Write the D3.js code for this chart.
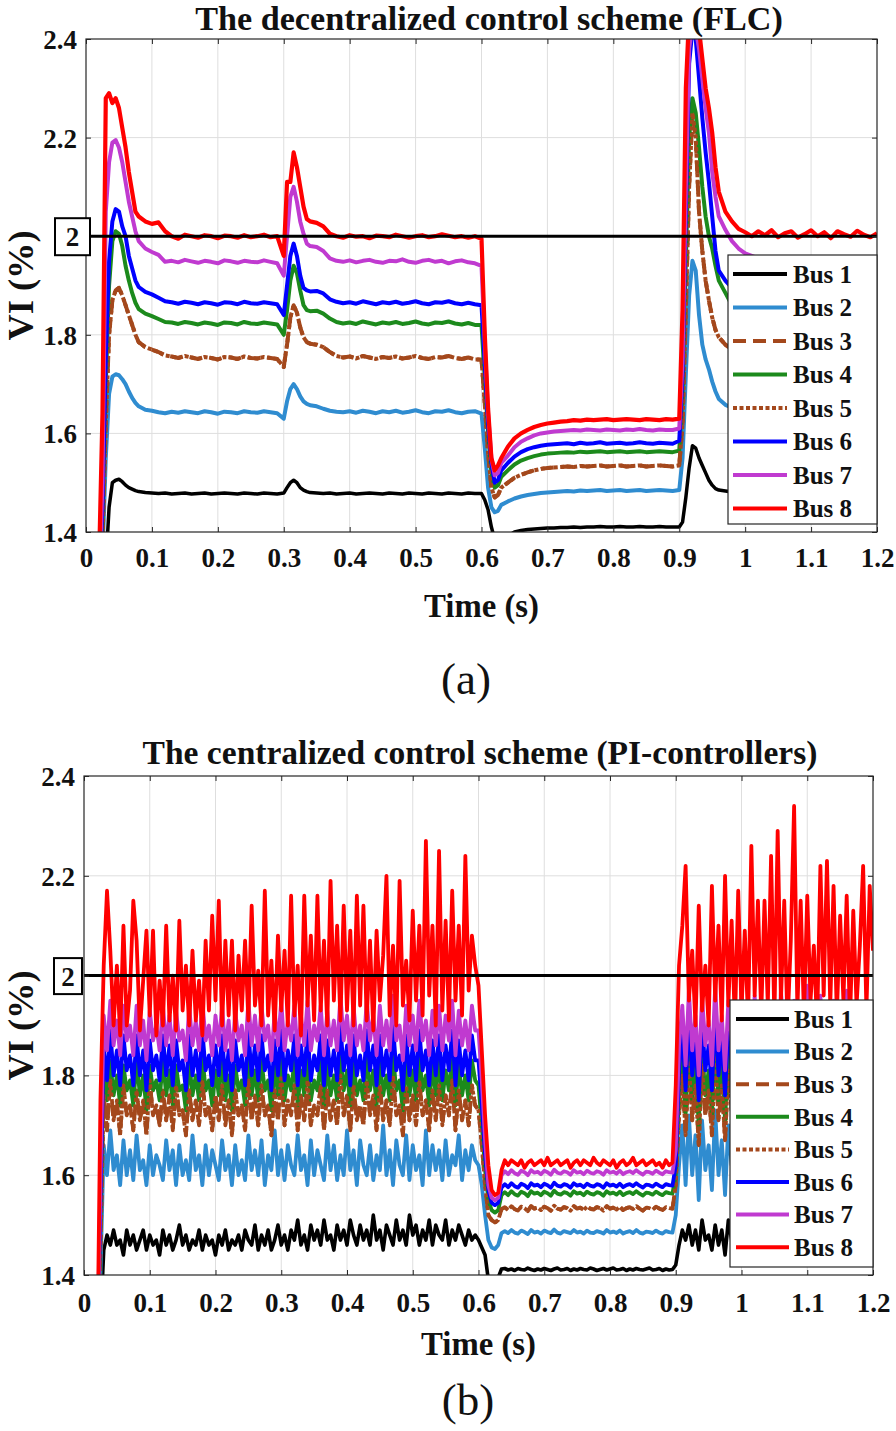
<!DOCTYPE html>
<html><head><meta charset="utf-8">
<script src="https://cdn.jsdelivr.net/npm/d3@7"></script>
<style>body{margin:0;background:#fff}svg{display:block}</style>
</head><body>
<svg id="c" width="896" height="1431"></svg>
<script>
// ---------- labels ----------
const titleA = "The decentralized control scheme (FLC)";
const titleB = "The centralized control scheme (PI-controllers)";
const xAxisLabel = "Time (s)";
const yAxisLabel = "VI (%)";
const busNames = ["Bus 1","Bus 2","Bus 3","Bus 4","Bus 5","Bus 6","Bus 7","Bus 8"];
const busColors = ["#000000","#2f8cd0","#a4481c","#1c8a1c","#a4481c","#0000ff","#c03ad0","#ff0000"];
const busDash = [null,null,"13,7",null,"4,2.5",null,null,null];
const xTicks = [0,0.1,0.2,0.3,0.4,0.5,0.6,0.7,0.8,0.9,1.0,1.1,1.2];
const xTickLabels = ["0","0.1","0.2","0.3","0.4","0.5","0.6","0.7","0.8","0.9","1","1.1","1.2"];
const yTicks = [1.4,1.6,1.8,2.0,2.2,2.4];
const yTickLabels = ["1.4","1.6","1.8","2","2.2","2.4"];
const refLevel = 2.0;

// ---------- (a) FLC data ----------
const tFLC = [0,0.02,0.025,0.03,0.035,0.04,0.045,0.05,0.055,0.06,0.065,0.07,0.075,0.08,
0.09,0.1,0.11,0.12,0.13,0.14,0.15,0.16,0.17,0.18,0.19,0.2,0.21,0.22,0.23,0.24,0.25,0.26,0.27,0.28,0.29,
0.3,0.305,0.31,0.315,0.32,0.325,0.33,0.335,0.34,
0.35,0.36,0.37,0.38,0.39,0.4,0.41,0.42,0.43,0.44,0.45,0.46,0.47,0.48,0.49,0.5,0.51,0.52,0.53,0.54,0.55,0.56,0.57,0.58,0.59,
0.6,0.605,0.61,0.615,0.62,0.625,0.63,
0.64,0.65,0.66,0.67,0.68,0.69,0.7,0.71,0.72,0.73,0.74,0.75,0.76,0.77,0.78,0.79,0.8,0.81,0.82,0.83,0.84,0.85,0.86,0.87,0.88,0.89,
0.9,0.905,0.91,0.915,0.92,0.925,0.93,0.935,0.94,0.945,0.95,0.955,0.96,
0.97,0.98,0.99,1,1.01,1.02,1.03,1.04,1.05,1.06,1.07,1.08,1.09,1.1,1.11,1.12,1.13,1.14,1.15,1.16,1.17,1.18,1.19,1.2];

const flcBus1 = [1.2,1.2,1.25,1.33,1.45,1.5,1.505,1.507,1.502,1.495,1.49,1.487,1.484,1.482,
1.48,1.479,1.478,1.479,1.477,1.478,1.479,1.477,1.478,1.479,1.477,1.478,1.479,1.478,1.477,1.479,1.478,1.477,1.479,1.478,1.477,
1.479,1.49,1.5,1.505,1.5,1.49,1.485,1.482,1.48,
1.479,1.478,1.479,1.477,1.478,1.479,1.477,1.478,1.479,1.478,1.477,1.479,1.478,1.477,1.479,1.478,1.477,1.479,1.478,1.477,1.479,1.478,1.477,1.479,1.478,
1.478,1.465,1.445,1.41,1.385,1.38,1.385,
1.392,1.4,1.403,1.405,1.406,1.407,1.408,1.408,1.409,1.409,1.41,1.409,1.41,1.41,1.411,1.41,1.41,1.411,1.41,1.41,1.411,1.41,1.41,1.411,1.41,1.41,
1.41,1.42,1.47,1.53,1.575,1.57,1.55,1.535,1.52,1.505,1.495,1.488,1.485,
1.483,1.481,1.48,1.479,1.478,1.479,1.477,1.478,1.479,1.477,1.478,1.476,1.477,1.478,1.476,1.477,1.475,1.476,1.477,1.475,1.476,1.474,1.475,1.476];

const flcBus2 = [1.2,1.26,1.35,1.55,1.68,1.715,1.72,1.718,1.71,1.7,1.685,1.672,1.662,1.655,
1.648,1.646,1.643,1.641,1.644,1.642,1.645,1.643,1.641,1.645,1.643,1.64,1.644,1.643,1.641,1.645,1.643,1.642,1.645,1.643,1.641,
1.63,1.665,1.69,1.7,1.69,1.675,1.665,1.66,1.657,
1.655,1.65,1.646,1.644,1.643,1.645,1.642,1.646,1.644,1.641,1.645,1.643,1.646,1.642,1.644,1.647,1.643,1.641,1.645,1.644,1.647,1.643,1.641,1.644,1.645,
1.64,1.57,1.49,1.45,1.44,1.443,1.455,
1.462,1.468,1.472,1.475,1.477,1.479,1.48,1.481,1.482,1.483,1.482,1.484,1.483,1.484,1.485,1.483,1.484,1.485,1.483,1.484,1.485,1.483,1.484,1.485,1.484,1.483,
1.485,1.55,1.72,1.88,1.95,1.93,1.84,1.78,1.75,1.73,1.705,1.685,1.67,
1.658,1.652,1.648,1.646,1.645,1.643,1.646,1.642,1.645,1.641,1.644,1.642,1.639,1.643,1.64,1.638,1.642,1.639,1.636,1.64,1.637,1.635,1.638,1.634];

const flcBus3 = [1.2,1.28,1.38,1.62,1.8,1.87,1.89,1.895,1.88,1.86,1.84,1.82,1.8,1.785,
1.775,1.77,1.765,1.758,1.756,1.753,1.757,1.754,1.751,1.755,1.753,1.75,1.755,1.754,1.751,1.756,1.753,1.752,1.755,1.753,1.751,
1.735,1.78,1.835,1.86,1.845,1.815,1.795,1.785,1.782,
1.78,1.775,1.765,1.757,1.754,1.756,1.752,1.757,1.754,1.751,1.755,1.753,1.756,1.752,1.754,1.757,1.753,1.751,1.755,1.754,1.757,1.753,1.751,1.754,1.75,
1.75,1.66,1.56,1.49,1.47,1.475,1.49,
1.5,1.51,1.516,1.521,1.525,1.528,1.53,1.531,1.532,1.533,1.532,1.534,1.533,1.534,1.535,1.533,1.534,1.535,1.533,1.534,1.535,1.533,1.534,1.535,1.534,1.533,
1.535,1.62,1.85,2.1,2.25,2.2,2.05,1.97,1.91,1.87,1.835,1.81,1.795,
1.78,1.77,1.762,1.758,1.755,1.759,1.752,1.756,1.751,1.755,1.753,1.75,1.754,1.752,1.756,1.75,1.753,1.749,1.753,1.751,1.748,1.752,1.749,1.75];

const flcBus4 = [1.2,1.3,1.42,1.7,1.9,1.99,2.01,2.005,1.98,1.94,1.91,1.885,1.865,1.852,
1.843,1.838,1.832,1.826,1.825,1.822,1.826,1.824,1.821,1.825,1.823,1.82,1.825,1.824,1.821,1.826,1.823,1.822,1.825,1.823,1.821,
1.8,1.85,1.91,1.94,1.925,1.89,1.86,1.85,1.848,
1.849,1.843,1.833,1.826,1.823,1.825,1.822,1.827,1.824,1.821,1.825,1.823,1.826,1.822,1.824,1.827,1.823,1.821,1.825,1.824,1.827,1.823,1.821,1.824,1.82,
1.82,1.71,1.6,1.52,1.49,1.495,1.512,
1.525,1.537,1.545,1.55,1.554,1.557,1.559,1.56,1.561,1.562,1.561,1.563,1.562,1.563,1.564,1.562,1.563,1.564,1.562,1.563,1.564,1.562,1.563,1.564,1.563,1.562,
1.565,1.68,1.95,2.2,2.28,2.25,2.18,2.1,2.04,2.0,1.975,1.94,1.91,
1.885,1.86,1.845,1.835,1.83,1.826,1.831,1.823,1.827,1.821,1.826,1.823,1.82,1.825,1.822,1.827,1.82,1.824,1.819,1.823,1.821,1.818,1.822,1.815];

const flcBus5 = flcBus3; // Bus 5 lies on Bus 3 in the picture

const flcBus6 = [1.2,1.3,1.45,1.75,1.95,2.03,2.055,2.05,2.02,2.0,1.96,1.935,1.91,1.897,
1.887,1.882,1.875,1.868,1.866,1.863,1.867,1.865,1.862,1.866,1.864,1.861,1.866,1.865,1.862,1.867,1.864,1.863,1.866,1.864,1.862,
1.84,1.9,1.96,1.985,1.96,1.92,1.895,1.89,1.888,
1.889,1.884,1.872,1.867,1.864,1.866,1.863,1.868,1.865,1.862,1.866,1.864,1.867,1.863,1.865,1.868,1.864,1.862,1.866,1.865,1.868,1.864,1.862,1.865,1.862,
1.86,1.74,1.62,1.54,1.5,1.505,1.525,
1.54,1.553,1.562,1.568,1.572,1.575,1.577,1.578,1.579,1.58,1.578,1.581,1.579,1.58,1.582,1.579,1.58,1.581,1.579,1.58,1.582,1.58,1.579,1.581,1.58,1.579,
1.585,1.72,2.05,2.35,2.42,2.4,2.32,2.24,2.17,2.11,2.04,1.97,1.93,
1.91,1.895,1.885,1.875,1.87,1.866,1.872,1.864,1.868,1.862,1.867,1.865,1.861,1.866,1.863,1.868,1.862,1.865,1.861,1.866,1.863,1.86,1.864,1.862];

const flcBus7 = [1.2,1.3,1.5,2.05,2.15,2.19,2.195,2.18,2.15,2.11,2.07,2.04,2.01,1.99,
1.975,1.968,1.962,1.948,1.95,1.947,1.952,1.949,1.946,1.95,1.948,1.945,1.951,1.949,1.946,1.95,1.948,1.947,1.951,1.948,1.945,
1.92,2.0,2.08,2.1,2.07,2.03,2.005,1.985,1.98,
1.978,1.97,1.955,1.95,1.948,1.951,1.947,1.95,1.952,1.948,1.946,1.95,1.949,1.953,1.948,1.946,1.95,1.952,1.948,1.95,1.945,1.949,1.951,1.947,1.945,
1.94,1.78,1.64,1.55,1.515,1.52,1.54,
1.555,1.572,1.583,1.59,1.596,1.6,1.602,1.604,1.605,1.606,1.607,1.606,1.608,1.607,1.606,1.608,1.607,1.606,1.608,1.607,1.609,1.607,1.606,1.608,1.607,1.607,
1.61,1.75,2.1,2.38,2.43,2.42,2.38,2.32,2.26,2.21,2.13,2.08,2.04,
2.013,1.99,1.975,1.965,1.96,1.955,1.952,1.958,1.95,1.955,1.948,1.953,1.95,1.946,1.952,1.948,1.945,1.95,1.947,1.944,1.949,1.946,1.943,1.945];

const flcBus8 = [1.2,1.35,1.64,2.28,2.29,2.27,2.28,2.26,2.22,2.18,2.13,2.09,2.05,2.04,
2.03,2.025,2.028,2.01,2.0,1.995,2.003,2.0,1.997,2.002,2.0,1.996,2.001,2.0,1.997,2.002,1.998,2.0,2.003,1.998,2.0,
1.96,2.11,2.11,2.17,2.14,2.1,2.06,2.035,2.03,
2.027,2.02,2.005,2.0,1.997,2.002,1.999,2.0,1.996,2.001,2.0,1.998,2.003,2.0,1.997,2.0,2.002,1.998,2.0,2.004,2.001,1.998,2.0,1.997,2.0,
1.995,1.8,1.65,1.55,1.525,1.535,1.55,
1.573,1.59,1.6,1.607,1.613,1.617,1.62,1.622,1.624,1.625,1.627,1.626,1.628,1.627,1.628,1.629,1.627,1.628,1.629,1.628,1.627,1.629,1.628,1.627,1.629,1.628,
1.63,1.85,2.3,2.45,2.48,2.46,2.42,2.36,2.3,2.26,2.21,2.14,2.09,
2.05,2.03,2.015,2.008,2.0,2.01,2.002,2.012,1.998,2.006,2.01,1.997,2.004,2.012,2.0,2.008,1.996,2.01,2.004,1.999,2.011,2.003,1.998,2.006];

// ---------- (b) PI data, sampled every 5 ms from 0 to 1.2 s ----------
const piStep = 0.005;
const piBus1 = [1.2,1.2,1.2,1.2,1.2,1.3,
1.45,1.48,1.46,1.49,1.46,1.47,1.44,1.49,1.46,1.48,1.45,1.47,1.49,1.45,1.48,1.46,1.47,1.44,1.49,1.46,
1.48,1.45,1.47,1.50,1.46,1.48,1.45,1.47,1.46,1.49,1.45,1.48,1.46,1.47,1.44,1.48,1.46,1.49,1.45,1.47,
1.46,1.48,1.45,1.49,1.47,1.46,1.50,1.45,1.48,1.46,1.49,1.45,1.47,1.50,1.46,1.48,1.45,1.49,1.47,1.51,
1.46,1.48,1.45,1.50,1.47,1.49,1.46,1.51,1.47,1.48,1.45,1.50,1.47,1.49,1.46,1.51,1.48,1.46,1.50,1.47,
1.49,1.46,1.52,1.47,1.49,1.45,1.50,1.48,1.46,1.51,1.47,1.49,1.46,1.52,1.48,1.50,1.46,1.49,1.47,1.51,
1.46,1.50,1.48,1.47,1.51,1.46,1.49,1.47,1.50,1.48,1.46,1.49,1.47,1.48,
1.47,1.455,1.44,1.39,1.37,1.37,1.395,1.412,
1.413,1.41,1.412,1.409,1.413,1.411,1.41,1.414,1.411,1.409,1.412,1.41,1.413,
1.411,1.409,1.412,1.414,1.41,1.411,1.413,1.409,1.412,1.41,1.413,1.411,1.41,
1.414,1.412,1.409,1.411,1.413,1.41,1.412,1.414,1.41,1.411,1.413,1.409,1.412,
1.41,1.413,1.411,1.41,1.412,1.414,1.41,1.411,1.413,1.409,1.412,1.41,1.411,
1.42,
1.46,1.49,1.47,1.50,1.46,1.49,1.45,1.51,1.47,1.48,1.45,1.50,1.46,1.49,1.44,1.51,1.47,1.49,1.45,1.50,
1.47,1.52,1.46,1.49,1.45,1.51,1.47,1.48,1.44,1.50,1.46,1.49,1.47,1.51,1.45,1.48,1.46,1.50,1.44,1.49,
1.47,1.51,1.45,1.48,1.46,1.52,1.47,1.49,1.45,1.50,1.46,1.48,1.44,1.51,1.47,1.49,1.45,1.50,1.48,1.52];

const piBus2 = [1.2,1.2,1.2,1.2,1.2,1.4,
1.66,1.60,1.69,1.61,1.64,1.58,1.67,1.60,1.65,1.59,1.68,1.61,1.63,1.58,1.66,1.60,1.64,1.62,1.59,1.67,
1.61,1.65,1.58,1.66,1.60,1.63,1.59,1.68,1.61,1.64,1.58,1.66,1.60,1.65,1.62,1.59,1.67,1.61,1.64,1.58,
1.66,1.60,1.63,1.59,1.68,1.61,1.65,1.60,1.67,1.58,1.64,1.61,1.69,1.60,1.65,1.59,1.66,1.62,1.60,1.68,
1.61,1.64,1.58,1.67,1.60,1.65,1.62,1.59,1.68,1.61,1.66,1.59,1.64,1.60,1.69,1.61,1.65,1.58,1.67,1.62,
1.60,1.66,1.59,1.64,1.61,1.70,1.60,1.65,1.58,1.67,1.62,1.60,1.68,1.59,1.66,1.61,1.64,1.58,1.69,1.60,
1.66,1.61,1.65,1.59,1.67,1.60,1.64,1.62,1.68,1.59,1.65,1.61,1.66,1.63,
1.62,1.58,1.52,1.47,1.455,1.452,1.46,1.484,
1.488,1.484,1.49,1.485,1.483,1.489,1.486,1.482,1.49,1.485,1.487,1.483,1.489,
1.486,1.484,1.491,1.485,1.483,1.488,1.486,1.484,1.49,1.485,1.487,1.483,1.489,
1.485,1.484,1.488,1.486,1.483,1.49,1.485,1.487,1.484,1.489,1.483,1.486,1.488,
1.484,1.49,1.485,1.483,1.487,1.486,1.484,1.489,1.485,1.483,1.488,1.486,1.485,
1.52,
1.62,1.70,1.58,1.72,1.60,1.68,1.55,1.71,1.61,1.66,1.57,1.73,1.60,1.67,1.56,1.70,1.62,1.65,1.55,1.72,
1.59,1.68,1.57,1.71,1.61,1.66,1.54,1.70,1.60,1.69,1.58,1.72,1.62,1.65,1.56,1.70,1.60,1.67,1.57,1.73,
1.61,1.66,1.55,1.71,1.59,1.68,1.57,1.70,1.62,1.65,1.56,1.72,1.60,1.67,1.58,1.69,1.61,1.66,1.59,1.65];

const piBus3 = [1.2,1.2,1.2,1.2,1.2,1.45,
1.76,1.69,1.79,1.71,1.75,1.68,1.78,1.72,1.74,1.69,1.77,1.71,1.75,1.68,1.79,1.72,1.74,1.70,1.77,1.71,
1.76,1.69,1.78,1.72,1.73,1.68,1.77,1.71,1.75,1.70,1.79,1.72,1.74,1.69,1.76,1.71,1.78,1.70,1.75,1.68,
1.77,1.72,1.74,1.69,1.79,1.71,1.76,1.70,1.78,1.72,1.74,1.68,1.77,1.71,1.80,1.70,1.75,1.72,1.78,1.69,
1.76,1.71,1.79,1.70,1.74,1.72,1.78,1.69,1.77,1.71,1.75,1.70,1.80,1.72,1.76,1.69,1.78,1.71,1.74,1.70,
1.79,1.72,1.76,1.69,1.78,1.71,1.75,1.70,1.80,1.72,1.74,1.68,1.78,1.71,1.76,1.70,1.79,1.72,1.75,1.69,
1.77,1.71,1.78,1.70,1.76,1.72,1.79,1.69,1.77,1.71,1.75,1.70,1.78,1.74,
1.73,1.66,1.58,1.52,1.51,1.505,1.51,1.532,
1.536,1.53,1.538,1.532,1.529,1.537,1.534,1.528,1.538,1.533,1.535,1.53,1.537,
1.534,1.529,1.539,1.533,1.531,1.536,1.534,1.529,1.538,1.533,1.535,1.53,1.537,
1.533,1.531,1.536,1.534,1.529,1.538,1.533,1.535,1.531,1.537,1.53,1.534,1.536,
1.532,1.538,1.533,1.529,1.535,1.534,1.531,1.537,1.533,1.53,1.536,1.534,1.533,
1.58,
1.72,1.80,1.68,1.83,1.71,1.78,1.66,1.82,1.72,1.77,1.68,1.84,1.71,1.78,1.67,1.81,1.73,1.76,1.66,1.83,
1.70,1.79,1.68,1.82,1.72,1.77,1.66,1.81,1.71,1.80,1.69,1.83,1.73,1.76,1.67,1.81,1.71,1.78,1.68,1.84,
1.72,1.77,1.66,1.82,1.70,1.79,1.68,1.81,1.73,1.76,1.67,1.83,1.71,1.78,1.69,1.80,1.72,1.77,1.70,1.74];

const piBus4 = [1.2,1.2,1.2,1.2,1.2,1.5,
1.81,1.75,1.83,1.76,1.80,1.74,1.82,1.77,1.79,1.74,1.83,1.76,1.80,1.73,1.82,1.77,1.79,1.75,1.83,1.76,
1.81,1.74,1.82,1.77,1.78,1.73,1.83,1.76,1.80,1.75,1.84,1.77,1.79,1.74,1.81,1.76,1.83,1.75,1.80,1.73,
1.82,1.77,1.79,1.74,1.84,1.76,1.81,1.75,1.83,1.77,1.79,1.73,1.82,1.76,1.84,1.75,1.80,1.77,1.83,1.74,
1.81,1.76,1.84,1.75,1.79,1.77,1.83,1.74,1.82,1.76,1.80,1.75,1.84,1.77,1.81,1.74,1.83,1.76,1.79,1.75,
1.84,1.77,1.81,1.74,1.83,1.76,1.80,1.75,1.84,1.77,1.79,1.73,1.83,1.76,1.81,1.75,1.84,1.77,1.80,1.74,
1.82,1.76,1.83,1.75,1.81,1.77,1.84,1.74,1.82,1.76,1.80,1.75,1.83,1.79,
1.78,1.70,1.61,1.55,1.53,1.525,1.53,1.56,
1.566,1.56,1.568,1.562,1.559,1.567,1.564,1.558,1.568,1.563,1.565,1.56,1.567,
1.564,1.559,1.569,1.563,1.561,1.566,1.564,1.559,1.568,1.563,1.565,1.56,1.567,
1.563,1.561,1.566,1.564,1.559,1.568,1.563,1.565,1.561,1.567,1.56,1.564,1.566,
1.562,1.568,1.563,1.559,1.565,1.564,1.561,1.567,1.563,1.56,1.566,1.564,1.563,
1.6,
1.76,1.84,1.72,1.87,1.75,1.82,1.70,1.86,1.76,1.81,1.72,1.88,1.75,1.82,1.71,1.85,1.77,1.80,1.70,1.87,
1.74,1.83,1.72,1.86,1.76,1.81,1.70,1.85,1.75,1.84,1.73,1.87,1.77,1.80,1.71,1.85,1.75,1.82,1.72,1.88,
1.76,1.81,1.70,1.86,1.74,1.83,1.72,1.85,1.77,1.80,1.71,1.87,1.75,1.82,1.73,1.84,1.76,1.81,1.74,1.79];

const piBus5 = piBus3; // Bus 5 lies on Bus 3 in the picture

const piBus6 = [1.2,1.2,1.2,1.2,1.2,1.55,
1.86,1.79,1.89,1.80,1.85,1.78,1.88,1.81,1.84,1.78,1.88,1.80,1.85,1.77,1.87,1.81,1.84,1.79,1.88,1.80,
1.86,1.78,1.87,1.81,1.83,1.77,1.88,1.80,1.85,1.79,1.89,1.81,1.84,1.78,1.86,1.80,1.88,1.79,1.85,1.77,
1.87,1.81,1.84,1.78,1.89,1.80,1.86,1.79,1.88,1.81,1.84,1.77,1.87,1.80,1.89,1.79,1.85,1.81,1.88,1.78,
1.86,1.80,1.89,1.79,1.84,1.81,1.88,1.78,1.87,1.80,1.85,1.79,1.90,1.81,1.86,1.78,1.88,1.80,1.84,1.79,
1.89,1.81,1.86,1.78,1.88,1.80,1.85,1.79,1.90,1.81,1.84,1.77,1.88,1.80,1.86,1.79,1.89,1.81,1.85,1.78,
1.87,1.80,1.88,1.79,1.86,1.81,1.89,1.78,1.87,1.80,1.85,1.79,1.88,1.83,
1.83,1.74,1.64,1.57,1.545,1.54,1.545,1.575,
1.582,1.576,1.584,1.578,1.575,1.583,1.58,1.574,1.584,1.579,1.581,1.576,1.583,
1.58,1.575,1.585,1.579,1.577,1.582,1.58,1.575,1.584,1.579,1.581,1.576,1.583,
1.579,1.577,1.582,1.58,1.575,1.584,1.579,1.581,1.577,1.583,1.576,1.58,1.582,
1.578,1.584,1.579,1.575,1.581,1.58,1.577,1.583,1.579,1.576,1.582,1.58,1.579,
1.62,
1.81,1.89,1.77,1.92,1.80,1.87,1.75,1.91,1.81,1.86,1.77,1.93,1.80,1.87,1.76,1.90,1.82,1.85,1.75,1.92,
1.79,1.88,1.77,1.91,1.81,1.86,1.75,1.90,1.80,1.89,1.78,1.92,1.82,1.85,1.76,1.90,1.80,1.87,1.77,1.93,
1.81,1.86,1.75,1.91,1.79,1.88,1.77,1.90,1.82,1.85,1.76,1.92,1.80,1.87,1.78,1.89,1.81,1.86,1.77,1.84];

const piBus7 = [1.2,1.2,1.2,1.2,1.2,1.6,
1.92,1.85,1.95,1.86,1.91,1.84,1.94,1.87,1.90,1.84,1.94,1.86,1.91,1.83,1.93,1.87,1.90,1.85,1.94,1.86,
1.92,1.84,1.93,1.87,1.89,1.83,1.94,1.86,1.91,1.85,1.95,1.87,1.90,1.84,1.92,1.86,1.94,1.85,1.91,1.83,
1.93,1.87,1.90,1.84,1.95,1.86,1.92,1.85,1.94,1.87,1.90,1.83,1.93,1.86,1.95,1.85,1.91,1.87,1.94,1.84,
1.92,1.86,1.95,1.85,1.90,1.87,1.94,1.84,1.93,1.86,1.91,1.85,1.96,1.87,1.92,1.84,1.94,1.86,1.90,1.85,
1.95,1.87,1.92,1.84,1.94,1.86,1.91,1.85,1.96,1.87,1.90,1.83,1.94,1.86,1.92,1.85,1.95,1.87,1.91,1.84,
1.93,1.86,1.94,1.85,1.92,1.87,1.95,1.84,1.93,1.86,1.91,1.85,1.94,1.89,
1.89,1.79,1.67,1.58,1.555,1.55,1.555,1.60,
1.608,1.602,1.61,1.604,1.601,1.609,1.606,1.6,1.61,1.605,1.607,1.602,1.609,
1.606,1.601,1.611,1.605,1.603,1.608,1.606,1.601,1.61,1.605,1.607,1.602,1.609,
1.605,1.603,1.608,1.606,1.601,1.61,1.605,1.607,1.603,1.609,1.602,1.606,1.608,
1.604,1.61,1.605,1.601,1.607,1.606,1.603,1.609,1.605,1.602,1.608,1.606,1.605,
1.65,
1.86,1.94,1.82,1.97,1.85,1.92,1.80,1.96,1.86,1.91,1.82,1.98,1.85,1.92,1.81,1.95,1.87,1.90,1.80,1.97,
1.84,1.93,1.82,1.96,1.86,1.91,1.80,1.95,1.85,1.94,1.83,1.97,1.87,1.90,1.81,1.95,1.85,1.92,1.82,1.98,
1.86,1.91,1.80,1.96,1.84,1.93,1.82,1.95,1.87,1.90,1.81,1.97,1.85,1.92,1.83,1.94,1.86,1.91,1.82,1.89];

const piBus8 = [1.2,1.2,1.2,1.2,1.2,1.75,
2.02,2.17,2.05,1.90,2.02,1.88,2.10,1.90,1.97,2.15,
2.07,1.89,1.99,2.09,1.92,2.09,1.88,1.99,1.90,2.10,
1.91,2.00,1.89,2.11,1.93,2.02,1.90,2.05,1.91,1.99,
1.88,2.07,1.93,2.12,1.95,2.15,1.90,2.07,1.92,2.07,
1.89,2.04,1.93,2.07,1.91,2.14,1.94,2.01,1.90,2.17,
1.92,2.03,1.89,2.08,1.93,2.05,1.90,2.16,1.92,2.02,
1.88,2.16,1.94,2.08,1.91,2.16,1.93,2.07,1.90,2.19,
1.95,2.10,1.91,2.14,1.93,2.09,1.90,2.16,1.94,2.14,
1.91,2.07,1.89,2.09,1.95,2.04,2.20,1.92,2.06,1.90,
2.19,1.94,2.03,1.91,2.13,1.95,2.10,1.92,2.27,1.96,
2.10,1.90,2.25,1.93,2.11,1.91,2.17,1.95,2.10,1.92,
2.24,1.97,2.08,2.02,
1.98,1.85,1.72,1.62,1.57,1.56,1.565,1.61,
1.63,1.62,1.63,1.625,1.62,1.63,1.615,1.625,1.63,1.62,1.625,1.63,1.62,
1.635,1.62,1.625,1.63,1.62,1.625,1.63,1.615,1.625,1.63,1.62,1.63,1.625,
1.62,1.635,1.625,1.62,1.63,1.625,1.62,1.63,1.615,1.625,1.63,1.62,1.625,
1.635,1.62,1.625,1.63,1.62,1.625,1.63,1.62,1.625,1.615,1.63,1.62,1.625,
1.78,
2.02,2.10,2.22,1.95,2.05,1.90,2.14,1.93,2.02,1.90,
2.18,1.95,2.10,1.91,2.20,1.94,2.11,1.90,2.17,1.93,
2.09,1.91,2.26,1.96,2.15,1.92,2.15,1.94,2.24,1.91,
2.29,1.95,2.15,1.90,2.07,2.34,1.93,2.15,1.92,2.16,
1.95,2.06,1.90,2.22,1.96,2.23,1.94,2.18,1.92,2.12,
1.95,2.16,1.91,2.13,1.94,2.06,2.22,1.93,2.18,2.05];

// ---------- drawing ----------
const FONT = "'Liberation Serif','Times New Roman',Times,serif";
const svg = d3.select("#c");

function fitWidth(sel, w) {
  const n = sel.node();
  const L = n.getComputedTextLength();
  if (L > 0) sel.attr("font-size", parseFloat(sel.attr("font-size")) * w / L);
}

const panels = [
  { id:"a", times: tFLC, series:[flcBus1,flcBus2,flcBus3,flcBus4,flcBus5,flcBus6,flcBus7,flcBus8],
    x0:86, x1:877, y0:39, y1:532, title:titleA, titleX:489, titleY:30, titleW:588,
    tickBase:567, xLabBase:617, yLabX:33, yLabW:110,
    box:{x:55, w:35, h:37},
    widths:[3.5,4,4,4,4,4,4,4.2],
    leg:{x:728, y:255, w:149, h:269, first:274, step:33.5, lx1:733, lx2:787, tx:793},
    cap:"(a)", capX:466, capY:694 },
  { id:"b", times: null, series:[piBus1,piBus2,piBus3,piBus4,piBus5,piBus6,piBus7,piBus8],
    x0:84, x1:873, y0:776, y1:1275, title:titleB, titleX:480, titleY:764, titleW:675,
    tickBase:1312, xLabBase:1355, yLabX:33, yLabW:110,
    box:{x:54, w:28, h:36},
    widths:[3.6,3.8,3.8,3.8,3.8,3.8,3.8,3.8],
    leg:{x:730, y:1000, w:143, h:267, first:1019, step:32.6, lx1:736, lx2:789, tx:794},
    cap:"(b)", capX:468, capY:1415 }
];

panels.forEach(p => {
  const x = d3.scaleLinear().domain([0, 1.2]).range([p.x0, p.x1]);
  const y = d3.scaleLinear().domain([1.4, 2.4]).range([p.y1, p.y0]);
  const g = svg.append("g");

  // grid
  g.append("g").selectAll("line").data(xTicks.slice(1, -1)).join("line")
    .attr("x1", d => x(d)).attr("x2", d => x(d)).attr("y1", p.y0).attr("y2", p.y1)
    .attr("stroke", "#dedede").attr("stroke-width", 1);
  g.append("g").selectAll("line").data(yTicks.slice(1, -1)).join("line")
    .attr("x1", p.x0).attr("x2", p.x1).attr("y1", d => y(d)).attr("y2", d => y(d))
    .attr("stroke", "#dedede").attr("stroke-width", 1);

  // clip
  const cid = "clip-" + p.id;
  svg.append("clipPath").attr("id", cid).append("rect")
    .attr("x", p.x0).attr("y", p.y0).attr("width", p.x1 - p.x0).attr("height", p.y1 - p.y0);

  const lines = g.append("g").attr("clip-path", `url(#${cid})`);
  p.series.forEach((vals, k) => {
    const tAt = i => p.times ? p.times[i] : i * piStep;
    const line = d3.line().defined((d, i) => d != null && tAt(i) != null)
      .x((d, i) => x(tAt(i))).y(d => y(d));
    lines.append("path").datum(vals)
      .attr("d", line).attr("fill", "none")
      .attr("stroke", busColors[k]).attr("stroke-width", p.widths[k])
      .attr("stroke-linejoin", "round")
      .attr("stroke-dasharray", busDash[k]);
  });

  // reference level
  g.append("line").attr("x1", x(0)).attr("x2", x(1.2)).attr("y1", y(refLevel)).attr("y2", y(refLevel))
    .attr("stroke", "#000").attr("stroke-width", 3);

  // frame
  g.append("rect").attr("x", p.x0).attr("y", p.y0).attr("width", p.x1 - p.x0).attr("height", p.y1 - p.y0)
    .attr("fill", "none").attr("stroke", "#262626").attr("stroke-width", 1.2);

  // axes
  const styleAxis = a => { a.attr("font-size", null).attr("font-family", null); a.select(".domain").remove(); a.selectAll(".tick line").attr("stroke", "#262626"); };
  const gxB = g.append("g").attr("transform", `translate(0,${p.y1})`)
    .call(d3.axisBottom(x).tickValues(xTicks).tickFormat((d, i) => xTickLabels[i]).tickSizeInner(-5).tickSizeOuter(0));
  styleAxis(gxB);
  gxB.selectAll(".tick text").attr("y", p.tickBase - p.y1).attr("dy", null)
    .attr("font-size", 27).attr("font-weight", "bold").attr("font-family", FONT).attr("fill", "#111");
  const gxT = g.append("g").attr("transform", `translate(0,${p.y0})`)
    .call(d3.axisTop(x).tickValues(xTicks).tickFormat("").tickSizeInner(-5).tickSizeOuter(0));
  styleAxis(gxT);
  const gyL = g.append("g").attr("transform", `translate(${p.x0},0)`)
    .call(d3.axisLeft(y).tickValues(yTicks).tickFormat((d, i) => yTickLabels[i]).tickSizeInner(-5).tickSizeOuter(0));
  styleAxis(gyL);
  gyL.selectAll(".tick text").attr("x", -9).attr("dy", "0.35em")
    .attr("font-size", 27).attr("font-weight", "bold").attr("font-family", FONT).attr("fill", "#111");
  const gyR = g.append("g").attr("transform", `translate(${p.x1},0)`)
    .call(d3.axisRight(y).tickValues(yTicks).tickFormat("").tickSizeInner(-5).tickSizeOuter(0));
  styleAxis(gyR);

  // boxed "2" tick label
  gyL.selectAll(".tick").filter(d => Math.abs(d - refLevel) < 1e-9).each(function() {
    const t = d3.select(this).select("text");
    t.attr("text-anchor", "middle").attr("x", (p.box.x + p.box.w / 2) - p.x0);
    d3.select(this).insert("rect", "text")
      .attr("x", p.box.x - p.x0).attr("y", -p.box.h / 2).attr("width", p.box.w).attr("height", p.box.h)
      .attr("fill", "#fff").attr("stroke", "#000").attr("stroke-width", 2);
  });

  // titles and labels
  const tt = svg.append("text").attr("x", p.titleX).attr("y", p.titleY).attr("text-anchor", "middle")
    .attr("font-family", FONT).attr("font-weight", "bold").attr("font-size", 33).attr("fill", "#111").text(p.title);
  fitWidth(tt, p.titleW);
  const xl = svg.append("text").attr("x", (p.x0 + p.x1) / 2).attr("y", p.xLabBase).attr("text-anchor", "middle")
    .attr("font-family", FONT).attr("font-weight", "bold").attr("font-size", 32).attr("fill", "#111").text(xAxisLabel);
  fitWidth(xl, 115);
  const yl = svg.append("text").attr("transform", `translate(${p.yLabX},${(p.y0 + p.y1) / 2}) rotate(-90)`)
    .attr("text-anchor", "middle").attr("font-family", FONT).attr("font-weight", "bold").attr("font-size", 33)
    .attr("fill", "#111").text(yAxisLabel);
  fitWidth(yl, p.yLabW);
  svg.append("text").attr("x", p.capX).attr("y", p.capY).attr("text-anchor", "middle")
    .attr("font-family", FONT).attr("font-size", 45).attr("fill", "#111").text(p.cap);

  // legend
  const L = p.leg;
  const lg = svg.append("g");
  lg.append("rect").attr("x", L.x).attr("y", L.y).attr("width", L.w).attr("height", L.h)
    .attr("fill", "#fff").attr("stroke", "#262626").attr("stroke-width", 1.2);
  busNames.forEach((name, k) => {
    const yy = L.first + k * L.step;
    lg.append("line").attr("x1", L.lx1).attr("x2", L.lx2).attr("y1", yy).attr("y2", yy)
      .attr("stroke", busColors[k]).attr("stroke-width", 4).attr("stroke-dasharray", busDash[k]);
    lg.append("text").attr("x", L.tx).attr("y", yy).attr("dy", "0.35em")
      .attr("font-family", FONT).attr("font-weight", "bold").attr("font-size", 25).attr("fill", "#111").text(name);
  });
});
</script>
</body></html>
